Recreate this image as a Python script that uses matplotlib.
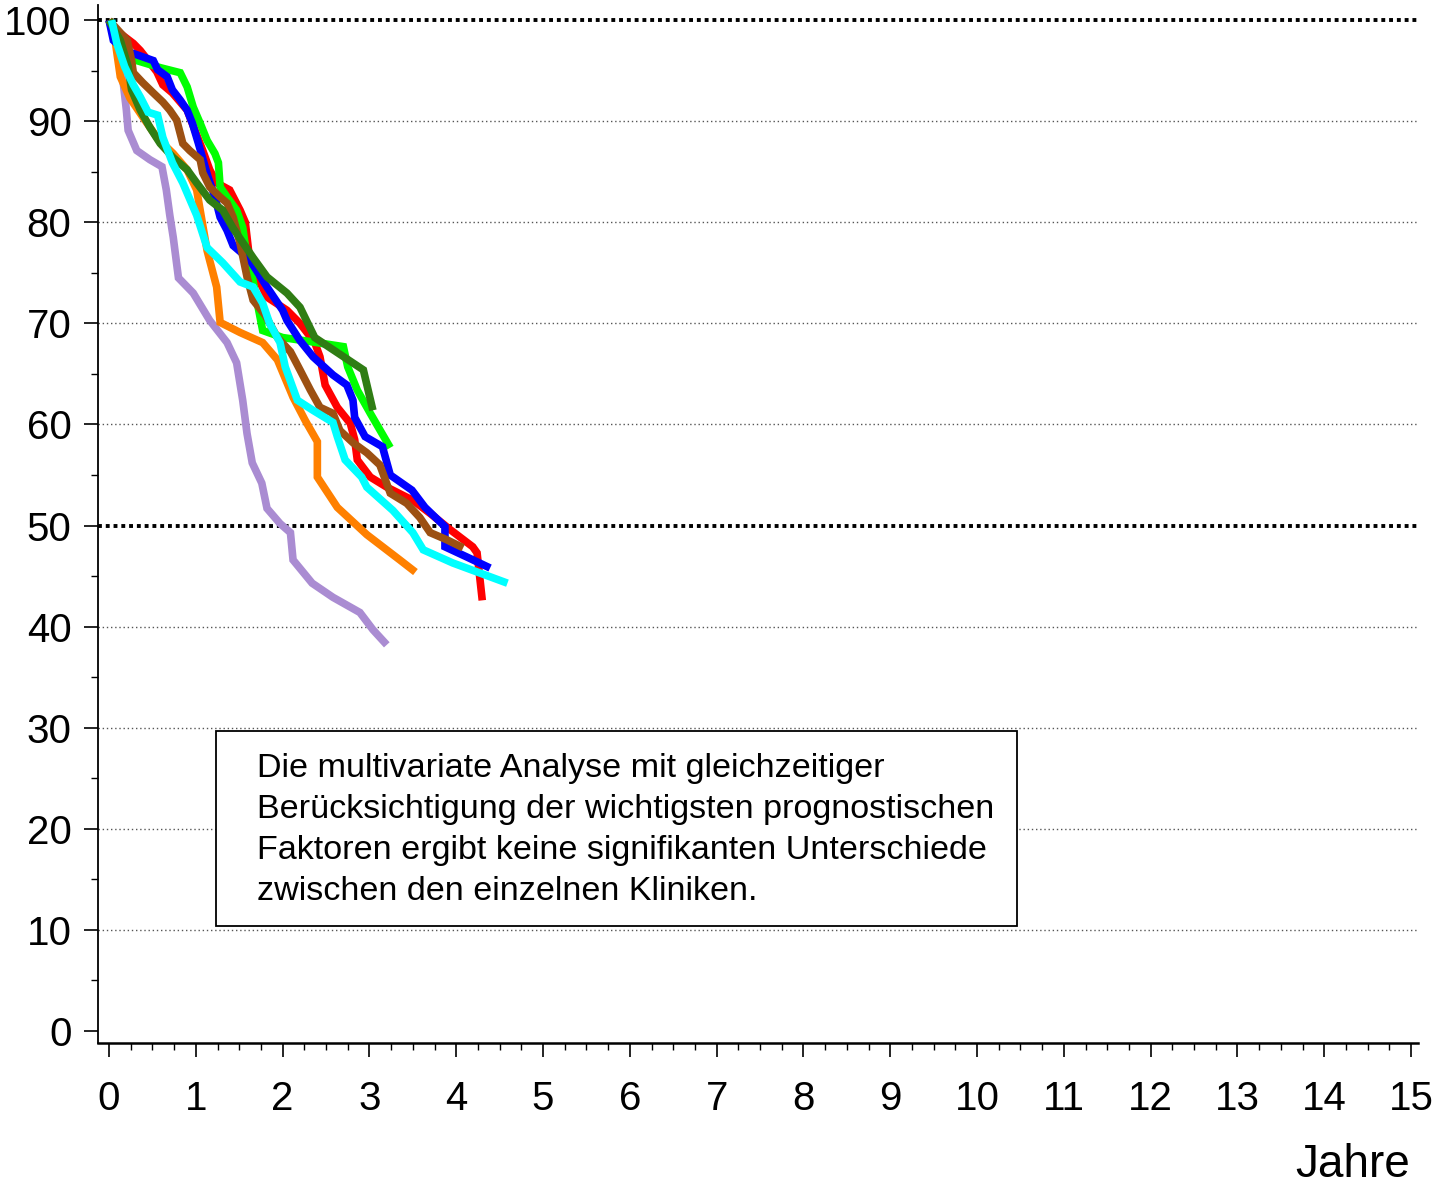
import matplotlib
matplotlib.use("Agg")
import matplotlib.pyplot as plt
from matplotlib.patches import Rectangle
from matplotlib.ticker import MultipleLocator

plt.rcParams["font.family"] = ["Liberation Sans", "DejaVu Sans"]

# -----------------------------
# DATA (Jahre, Überlebensrate %)
# -----------------------------
purple_x = [0, 0.10, 0.16, 0.20, 0.22, 0.32, 0.47, 0.61, 0.66, 0.70, 0.74, 0.80, 0.97, 1.16, 1.36,
            1.47, 1.54, 1.59, 1.65, 1.76, 1.82, 1.97, 2.09, 2.12, 2.34, 2.58, 2.89, 3.04, 3.20]
purple_y = [100, 98.0, 94.1, 91.1, 89.1, 87.1, 86.2, 85.5, 83.2, 80.7, 78.5, 74.5, 73.0, 70.3, 68.1,
            66.1, 62.4, 59.1, 56.2, 54.2, 51.7, 50.2, 49.3, 46.6, 44.3, 42.9, 41.4, 39.7, 38.2]

orange_x = [0, 0.07, 0.13, 0.24, 0.39, 0.56, 0.74, 0.90, 1.01, 1.05, 1.13, 1.24, 1.28, 1.51, 1.77,
            1.94, 2.12, 2.26, 2.40, 2.40, 2.63, 2.97, 3.35, 3.53]
orange_y = [100, 98.0, 94.4, 92.3, 90.4, 88.3, 86.8, 85.2, 83.2, 81.2, 77.2, 73.6, 70.1, 69.1, 68.1,
            66.4, 62.7, 60.4, 58.3, 54.8, 51.8, 49.1, 46.6, 45.4]

red_x = [0, 0.05, 0.28, 0.36, 0.55, 0.62, 0.73, 0.90, 0.99, 1.08, 1.16, 1.24, 1.39, 1.51, 1.57,
         1.62, 1.82, 2.05, 2.20, 2.37, 2.43, 2.49, 2.63, 2.78, 2.83, 2.86, 3.01, 3.20, 3.50, 3.70,
         3.93, 4.19, 4.24, 4.30]
red_y = [100, 99.2, 97.7, 97.0, 94.9, 93.6, 92.8, 91.1, 89.1, 87.1, 85.2, 83.9, 83.2, 81.2, 80.0,
         76.3, 72.6, 71.3, 70.0, 68.1, 66.7, 63.9, 61.7, 60.1, 58.5, 56.5, 54.8, 53.8, 52.5, 51.2,
         49.6, 47.9, 47.3, 42.6]

lime_x = [0, 0.18, 0.32, 0.59, 0.82, 0.90, 0.97, 1.05, 1.13, 1.22, 1.26, 1.28, 1.36, 1.47, 1.54,
          1.57, 1.65, 1.77, 2.00, 2.32, 2.70, 2.75, 2.86, 3.01, 3.24]
lime_y = [100, 97.2, 96.0, 95.3, 94.8, 93.4, 91.4, 89.8, 88.1, 86.8, 85.9, 83.5, 82.5, 81.2, 79.5,
          77.7, 74.6, 69.3, 68.6, 68.2, 67.7, 65.7, 63.4, 61.1, 57.7]

blue_x = [0, 0.05, 0.18, 0.28, 0.51, 0.56, 0.67, 0.73, 0.82, 0.90, 0.96, 1.03, 1.14, 1.22, 1.28,
          1.36, 1.43, 1.62, 1.82, 2.00, 2.05, 2.20, 2.35, 2.58, 2.74, 2.81, 2.83, 2.95, 3.15, 3.24,
          3.49, 3.64, 3.87, 3.87, 4.12, 4.39]
blue_y = [100, 98.0, 97.0, 96.7, 96.0, 95.1, 94.4, 93.1, 92.1, 91.1, 89.8, 87.8, 84.5, 82.5, 80.5,
          79.2, 77.7, 76.3, 73.6, 71.3, 70.3, 68.3, 66.7, 64.9, 63.9, 62.4, 60.7, 58.8, 57.8, 55.0,
          53.5, 51.8, 49.9, 47.9, 46.9, 45.8]

brown_x = [0, 0.21, 0.26, 0.28, 0.39, 0.51, 0.62, 0.70, 0.78, 0.85, 0.93, 1.05, 1.08, 1.16, 1.28,
           1.36, 1.43, 1.51, 1.59, 1.66, 1.80, 1.94, 2.09, 2.20, 2.32, 2.43, 2.58, 2.66, 2.81, 2.97,
           3.12, 3.24, 3.43, 3.58, 3.70, 3.89, 4.08]
brown_y = [100, 98.0, 96.0, 94.8, 93.8, 92.8, 91.9, 91.1, 90.1, 87.8, 87.1, 86.2, 84.9, 83.5, 82.5,
           81.9, 80.5, 77.9, 74.6, 72.3, 70.8, 68.6, 67.2, 65.4, 63.4, 61.7, 61.1, 59.4, 58.2, 57.2,
           56.0, 53.2, 52.2, 50.8, 49.3, 48.6, 47.8]

dkgreen_x = [0, 0.13, 0.22, 0.26, 0.36, 0.47, 0.59, 0.74, 0.90, 1.01, 1.16, 1.31, 1.43, 1.66, 1.82,
             2.05, 2.20, 2.37, 2.58, 2.93, 3.04]
dkgreen_y = [100, 98.0, 95.4, 93.1, 91.1, 89.4, 87.8, 86.4, 85.2, 83.9, 82.2, 81.2, 79.4, 76.5, 74.6,
             73.0, 71.6, 68.6, 67.4, 65.4, 61.4]

cyan_x = [0.03, 0.09, 0.18, 0.28, 0.36, 0.45, 0.56, 0.62, 0.73, 0.85, 1.01, 1.13, 1.31, 1.51, 1.66,
          1.77, 1.85, 1.97, 2.03, 2.17, 2.35, 2.58, 2.63, 2.72, 2.91, 2.97, 3.27, 3.50, 3.62, 3.96,
          4.59]
cyan_y = [100, 97.7, 95.4, 93.6, 92.4, 90.9, 90.6, 88.4, 85.9, 83.9, 80.7, 77.5, 76.0, 74.1, 73.6,
          72.0, 70.0, 68.1, 65.7, 62.4, 61.4, 60.2, 58.8, 56.5, 54.8, 53.8, 51.5, 49.3, 47.6, 46.3,
          44.3]

grid_levels = [10, 20, 30, 40, 60, 70, 80, 90]
bold_levels = [50, 100]

box_lines = [
    "Die multivariate Analyse mit gleichzeitiger",
    "Berücksichtigung der wichtigsten prognostischen",
    "Faktoren ergibt keine signifikanten Unterschiede",
    "zwischen den einzelnen Kliniken.",
]

# -----------------------------
# PLOT
# -----------------------------
fig = plt.figure(figsize=(14.35, 11.86), dpi=100)
ax = fig.add_axes([98 / 1435, 1 - 1043 / 1186, 1320 / 1435, 1038 / 1186])

ax.set_xlim(-0.127, 15.08)
ax.set_ylim(-1.19, 101.5)

for lv in grid_levels:
    ax.axhline(lv, color="#555555", lw=1.0, ls=(0, (1, 2)), zorder=1)
for lv in bold_levels:
    ax.axhline(lv, color="black", lw=2.8, ls=(0, (1, 1)), zorder=1)

curves = [
    (purple_x, purple_y, "#AA8CD2"),
    (orange_x, orange_y, "#FF8000"),
    (red_x, red_y, "#FF0000"),
    (lime_x, lime_y, "#00FF00"),
    (blue_x, blue_y, "#0000FF"),
    (brown_x, brown_y, "#9C5012"),
    (dkgreen_x, dkgreen_y, "#2F7D14"),
    (cyan_x, cyan_y, "#00FFFF"),
]
for i, (xs, ys, col) in enumerate(curves):
    ax.plot(xs, ys, color=col, lw=5.5, solid_joinstyle="miter",
            solid_capstyle="butt", zorder=3 + i)

# text box
ax.add_patch(Rectangle((1.233, 10.39), 9.227, 19.28, facecolor="white",
                       edgecolor="black", lw=1.3, zorder=2))
for i, line in enumerate(box_lines):
    fig.text(257 / 1435, 1 - (777 + 41 * i) / 1186, line, fontsize=24.6,
             va="baseline", ha="left")

# axes styling
for side in ["top", "right"]:
    ax.spines[side].set_visible(False)
ax.spines["left"].set_linewidth(1.3)
ax.spines["bottom"].set_linewidth(1.8)

ax.xaxis.set_major_locator(MultipleLocator(1))
ax.xaxis.set_minor_locator(MultipleLocator(0.25))
ax.yaxis.set_major_locator(MultipleLocator(10))
ax.yaxis.set_minor_locator(MultipleLocator(5))
ax.set_xticks(range(0, 16))
ax.set_yticks(range(0, 101, 10))

ax.tick_params(axis="x", which="major", length=10, width=1.2, pad=17, labelsize=29)
ax.tick_params(axis="x", which="minor", length=5, width=1.0)
ax.tick_params(axis="y", which="major", length=10, width=1.2, pad=9, labelsize=29)
ax.tick_params(axis="y", which="minor", length=5, width=1.0)

fig.text(1410 / 1435, 1 - 1177 / 1186, "Jahre", fontsize=33, ha="right", va="baseline")

plt.savefig("out.png", dpi=100)
plt.close()
